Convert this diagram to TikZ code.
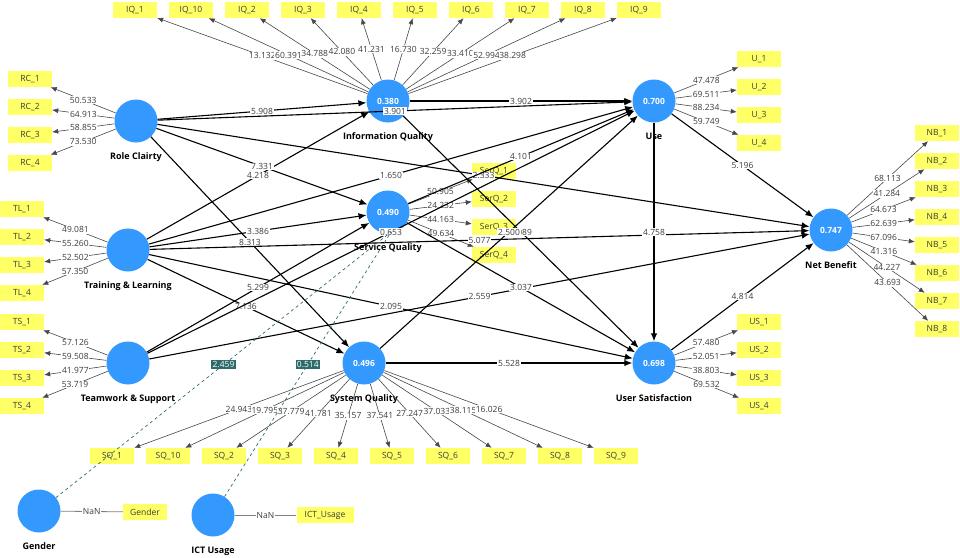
\documentclass[tikz,border=0pt]{standalone}
\usepackage{fontspec}
\setmainfont{Open Sans}
\setsansfont{Open Sans}
\usepackage{xcolor}
\definecolor{lvblue}{HTML}{3399FF}
\definecolor{mvyellow}{HTML}{FFFF66}
\definecolor{modteal}{HTML}{2F6B6B}
\definecolor{numgray}{HTML}{3C3C3C}
\usepackage{tikz}
\usetikzlibrary{arrows.meta, calc}

\begin{document}
\begin{tikzpicture}[x=1pt, y=-1pt, font=\sffamily,
  latent/.style={circle, fill=lvblue, minimum size=43pt, inner sep=0pt, text=white,
    font=\sffamily\bfseries\fontsize{8.5}{10}\selectfont},
  lvname/.style={inner sep=0pt, label distance=9.5pt, text height=7pt, text depth=2pt,
    font=\sffamily\bfseries\fontsize{9}{11}\selectfont},
  item/.style={fill=mvyellow, minimum width=44pt, minimum height=16pt, inner sep=0pt,
    text=numgray, font=\sffamily\fontsize{8.5}{10}\selectfont},
  loading/.style={draw=black!72, line width=0.6pt, -{Latex[length=6pt,width=5pt]}},
  relation/.style={draw=black, line width=1.1pt, -{Latex[length=8pt,width=6.5pt]}},
  tval/.style={fill=white, inner sep=0.8pt, text=numgray, font=\sffamily\fontsize{8.5}{10}\selectfont},
  modline/.style={draw=modteal, dashed, line width=0.7pt},
  modval/.style={fill=modteal, inner sep=1.2pt, text=white, font=\sffamily\fontsize{8.5}{10}\selectfont},
  nanline/.style={draw=black!50, line width=0.8pt}]
  \useasboundingbox (0,0) rectangle (960,557);

  % latent variables
  \node[latent, label={[lvname]below:Role Clairty}] (RC) at (136,121) {};
  \node[latent, label={[lvname]below:Training \& Learning}] (TL) at (128,250) {};
  \node[latent, label={[lvname]below:Teamwork \& Support}] (TS) at (128,363) {};
  \node[latent, label={[lvname]below:Information Quality}] (IQ) at (388,101) {0.380};
  \node[latent, label={[lvname]below:Service Quality}] (SerQ) at (388,212) {0.490};
  \node[latent, label={[lvname]below:System Quality}] (SQ) at (364,363) {0.496};
  \node[latent, label={[lvname]below:Use}] (Use) at (654,101) {0.700};
  \node[latent, label={[lvname]below:User Satisfaction}] (US) at (654,363) {0.698};
  \node[latent, label={[lvname]below:Net Benefit}] (NB) at (831,230) {0.747};
  \node[latent, label={[lvname]below:Gender}] (Gen) at (39,511) {};
  \node[latent, label={[lvname]below:ICT Usage}] (ICT) at (213,515) {};

  % indicators and loadings
  \foreach \n/\x/\v in {1/135/13.132, 10/191/60.391, 2/247/34.788, 3/303/42.080, 4/359/41.231,
      5/415/16.730, 6/471/32.259, 7/527/33.410, 8/583/52.994, 9/639/38.298} {
    \node[item] (IQ\n) at (\x,10) {IQ\_\n};
    \draw[loading] (IQ) -- node[tval] {\v} (IQ\n);
  }
  \foreach \n/\y/\v in {1/79/50.533, 2/107/64.913, 3/135/58.855, 4/163/73.530} {
    \node[item] (RC\n) at (30,\y) {RC\_\n};
    \draw[loading] (RC) -- node[tval] {\v} (RC\n);
  }
  \foreach \n/\y/\v in {1/209/49.081, 2/237/55.260, 3/265/52.502, 4/293/57.350} {
    \node[item] (TL\n) at (22,\y) {TL\_\n};
    \draw[loading] (TL) -- node[tval] {\v} (TL\n);
  }
  \foreach \n/\y/\v in {1/322/57.126, 2/350/59.508, 3/378/41.977, 4/406/53.719} {
    \node[item] (TS\n) at (22,\y) {TS\_\n};
    \draw[loading] (TS) -- node[tval] {\v} (TS\n);
  }
  \foreach \n/\y/\v in {1/171/50.905, 2/199/24.232, 3/227/44.163, 4/255/49.634} {
    \node[item] (SerQ\n) at (494,\y) {SerQ\_\n};
    \draw[loading] (SerQ) -- node[tval] {\v} (SerQ\n);
  }
  \foreach \n/\y/\v in {1/59/47.478, 2/87/69.511, 3/115/88.234, 4/143/59.749} {
    \node[item] (U\n) at (759,\y) {U\_\n};
    \draw[loading] (Use) -- node[tval] {\v} (U\n);
  }
  \foreach \n/\y/\v in {1/322/57.480, 2/350/52.051, 3/378/38.803, 4/406/69.532} {
    \node[item] (US\n) at (759,\y) {US\_\n};
    \draw[loading] (US) -- node[tval] {\v} (US\n);
  }
  \foreach \n/\y/\v in {1/133/68.113, 2/161/41.284, 3/189/64.673, 4/217/62.639,
      5/245/67.096, 6/273/41.316, 7/301/44.227, 8/329/43.693} {
    \node[item] (NB\n) at (937,\y) {NB\_\n};
    \draw[loading] (NB) -- node[tval] {\v} (NB\n);
  }
  \foreach \n/\x/\v in {1/112/24.943, 10/168/19.795, 2/224/37.779, 3/280/41.781, 4/336/35.157,
      5/392/37.541, 6/448/27.247, 7/504/37.033, 8/560/38.115, 9/616/16.026} {
    \node[item] (SQ\n) at (\x,456) {SQ\_\n};
    \draw[loading] (SQ) -- node[tval] {\v} (SQ\n);
  }
  \node[item] (GenItem) at (145,512) {Gender};
  \node[item, minimum width=57pt] (ICTItem) at (325,515) {ICT\_Usage};
  \draw[nanline] (Gen) -- node[tval] {NaN} (GenItem);
  \draw[nanline] (ICT) -- node[tval] {NaN} (ICTItem);

  % inner model
  \foreach \a/\b/\v in {RC/IQ/5.908, RC/Use/3.901, TL/IQ/4.218, RC/SerQ/7.331, TL/SerQ/3.386,
      RC/SQ/8.313, TL/Use/1.650, RC/NB/2.333, SerQ/Use/4.101, TL/NB/5.077, IQ/Use/3.902,
      IQ/US/2.089, SQ/Use/2.500, Use/US/4.758, Use/NB/5.196, TS/SerQ/5.299, TL/SQ/7.136,
      TL/US/2.095, TS/NB/2.559, SerQ/US/3.037, SQ/US/5.528, US/NB/4.814, TS/Use/0.653} {
    \draw[relation] (\a) -- node[tval] {\v} (\b);
  }

  % moderating effects
  \coordinate (TSUse) at ($(TS)!0.5!(Use)$);
  \draw[modline] (Gen) -- node[modval] {2.459} (TSUse);
  \draw[modline] (ICT) -- node[modval] {0.514} (TSUse);
\end{tikzpicture}
\end{document}
